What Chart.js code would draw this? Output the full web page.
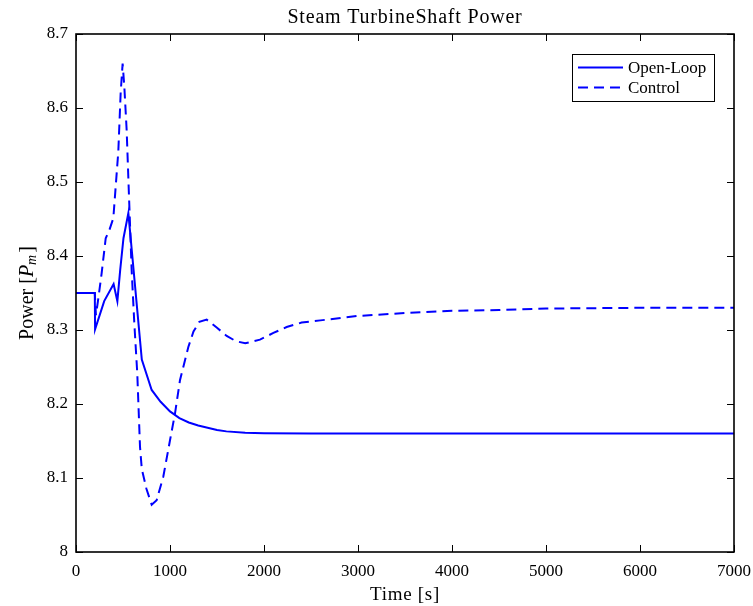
<!DOCTYPE html>
<html>
<head>
<meta charset="utf-8">
<script src="https://cdn.jsdelivr.net/npm/chart.js@4/dist/chart.umd.min.js"></script>
<style>
  html, body { margin: 0; padding: 0; background: #fff; }
  #wrap { width: 753px; height: 606px; }
</style>
</head>
<body>
<div id="wrap"><canvas id="c" width="753" height="606"></canvas></div>
<script>
// Shaft power response of the steam turbine, open loop vs. with control
const openLoopTime  = [0, 200, 203, 300, 400, 440, 470, 505, 557, 700, 805, 900, 1000, 1100, 1200, 1300, 1400, 1500, 1600, 1800, 2000, 2500, 3000, 7000];
const openLoopPower = [8.35, 8.35, 8.301, 8.339, 8.362, 8.339, 8.381, 8.424, 8.458, 8.26, 8.219, 8.203, 8.19, 8.181, 8.175, 8.171, 8.168, 8.165, 8.163, 8.161, 8.1605, 8.16, 8.16, 8.16];

const controlTime  = [0, 200, 212, 240, 273, 316, 355, 397, 450, 475, 496, 514, 539, 564, 592, 620, 652, 681, 700, 750, 805, 858, 929, 1000, 1053, 1106, 1195, 1250, 1312, 1390, 1500, 1603, 1700, 1800, 1957, 2100, 2241, 2400, 2600, 3000, 3500, 4000, 4500, 5000, 6000, 7000];
const controlPower = [8.35, 8.35, 8.32, 8.345, 8.377, 8.424, 8.435, 8.451, 8.541, 8.62, 8.66, 8.629, 8.57, 8.48, 8.381, 8.31, 8.241, 8.142, 8.112, 8.085, 8.064, 8.07, 8.102, 8.151, 8.187, 8.232, 8.277, 8.298, 8.311, 8.314, 8.303, 8.292, 8.285, 8.282, 8.287, 8.296, 8.304, 8.31, 8.313, 8.319, 8.323, 8.326, 8.327, 8.329, 8.33, 8.33];

const timeTicks  = [0, 1000, 2000, 3000, 4000, 5000, 6000, 7000];
const powerTicks = [8, 8.1, 8.2, 8.3, 8.4, 8.5, 8.6, 8.7];

const seriesLabels = ['Open-Loop', 'Control'];
const titleText = 'Steam TurbineShaft Power';
const xTitleText = 'Time [s]';

const SERIF = '"Liberation Serif", "Times New Roman", serif';
const BLUE = '#0000ff';

const toPoints = (xs, ys) => xs.map((x, i) => ({ x: x, y: ys[i] }));

// Box around the axes with inward tick marks on all four sides
const framePlugin = {
  id: 'frame',
  afterDraw(chart) {
    const { ctx, chartArea: a, scales } = chart;
    const len = 7;
    ctx.save();
    ctx.strokeStyle = '#000';
    ctx.lineWidth = 1;
    ctx.beginPath();
    scales.x.ticks.forEach(t => {
      const px = Math.round(scales.x.getPixelForValue(t.value)) + 0.5;
      ctx.moveTo(px, a.bottom); ctx.lineTo(px, a.bottom - len);
      ctx.moveTo(px, a.top); ctx.lineTo(px, a.top + len);
    });
    scales.y.ticks.forEach(t => {
      const py = Math.round(scales.y.getPixelForValue(t.value)) + 0.5;
      ctx.moveTo(a.left, py); ctx.lineTo(a.left + len, py);
      ctx.moveTo(a.right, py); ctx.lineTo(a.right - len, py);
    });
    ctx.stroke();
    ctx.lineWidth = 1.6;
    ctx.strokeRect(a.left, a.top, a.right - a.left, a.bottom - a.top);
    ctx.restore();
  }
};

// Title, axis titles (the y title carries an italic subscripted symbol)
const textPlugin = {
  id: 'texts',
  afterDraw(chart) {
    const { ctx, chartArea: a } = chart;
    const cx = (a.left + a.right) / 2;
    const cy = (a.top + a.bottom) / 2;
    ctx.save();
    ctx.fillStyle = '#000';
    ctx.textBaseline = 'alphabetic';
    ctx.textAlign = 'center';

    ctx.font = '20px ' + SERIF;
    ctx.letterSpacing = '0.8px';
    ctx.fillText(titleText, cx, 23);

    ctx.font = '19px ' + SERIF;
    ctx.letterSpacing = '0.7px';
    ctx.fillText(xTitleText, cx, 600);
    ctx.letterSpacing = '0px';

    // y title: "Power [P_m]"
    const parts = [
      { t: 'Power [', f: '20px ' + SERIF, dy: 0 },
      { t: 'P', f: 'italic 20px ' + SERIF, dy: 0 },
      { t: 'm', f: 'italic 14px ' + SERIF, dy: 3 },
      { t: ']', f: '20px ' + SERIF, dy: 0, gap: 2 }
    ];
    let total = 0;
    parts.forEach(p => { ctx.font = p.f; p.w = ctx.measureText(p.t).width; total += p.w + (p.gap || 0); });
    ctx.translate(33, cy);
    ctx.rotate(-Math.PI / 2);
    ctx.textAlign = 'left';
    let x = -total / 2;
    parts.forEach(p => {
      x += (p.gap || 0);
      ctx.font = p.f;
      ctx.fillText(p.t, x, p.dy);
      x += p.w;
    });
    ctx.restore();
  }
};

// Framed legend in the upper right of the axes
const legendPlugin = {
  id: 'boxLegend',
  afterDraw(chart) {
    const { ctx } = chart;
    const box = { x: 572, y: 54, w: 142, h: 47 };
    ctx.save();
    ctx.fillStyle = '#fff';
    ctx.fillRect(box.x, box.y, box.w, box.h);
    ctx.strokeStyle = '#000';
    ctx.lineWidth = 1;
    ctx.strokeRect(box.x + 0.5, box.y + 0.5, box.w, box.h);
    chart.data.datasets.forEach((ds, i) => {
      const y = box.y + 13.5 + i * 20;
      ctx.strokeStyle = ds.borderColor;
      ctx.lineWidth = ds.borderWidth;
      ctx.setLineDash(ds.borderDash || []);
      ctx.beginPath();
      ctx.moveTo(box.x + 6, y);
      ctx.lineTo(box.x + 51, y);
      ctx.stroke();
      ctx.setLineDash([]);
      ctx.fillStyle = '#000';
      ctx.font = '17px ' + SERIF;
      ctx.textBaseline = 'middle';
      ctx.textAlign = 'left';
      ctx.fillText(ds.label, box.x + 56, y + 1);
    });
    ctx.restore();
  }
};

new Chart(document.getElementById('c'), {
  type: 'line',
  data: {
    datasets: [
      {
        label: seriesLabels[0],
        data: toPoints(openLoopTime, openLoopPower),
        borderColor: BLUE,
        borderWidth: 2,
        pointRadius: 0,
        tension: 0,
        fill: false
      },
      {
        label: seriesLabels[1],
        data: toPoints(controlTime, controlPower),
        borderColor: BLUE,
        borderWidth: 2,
        borderDash: [10, 6],
        pointRadius: 0,
        tension: 0,
        fill: false
      }
    ]
  },
  options: {
    responsive: false,
    animation: false,
    devicePixelRatio: 1,
    layout: { padding: { top: 34, right: 19, left: 0, bottom: 0 } },
    plugins: {
      legend: { display: false },
      title: { display: false },
      tooltip: { enabled: false }
    },
    scales: {
      x: {
        type: 'linear',
        min: timeTicks[0],
        max: timeTicks[timeTicks.length - 1],
        afterBuildTicks: s => { s.ticks = timeTicks.map(v => ({ value: v })); },
        afterFit: s => { s.height = 54; s.paddingLeft = 0; s.paddingRight = 0; },
        grid: { display: false, drawTicks: false },
        border: { display: false },
        ticks: {
          color: '#000',
          padding: 9,
          maxRotation: 0,
          font: { family: SERIF, size: 17 },
          callback: v => String(v)
        }
      },
      y: {
        type: 'linear',
        min: powerTicks[0],
        max: powerTicks[powerTicks.length - 1],
        afterBuildTicks: s => { s.ticks = powerTicks.map(v => ({ value: v })); },
        afterFit: s => { s.width = 76; s.paddingTop = 0; s.paddingBottom = 0; },
        grid: { display: false, drawTicks: false },
        border: { display: false },
        ticks: {
          color: '#000',
          padding: 8,
          font: { family: SERIF, size: 17 },
          callback: v => String(Number(v.toFixed(1)))
        }
      }
    }
  },
  plugins: [framePlugin, textPlugin, legendPlugin]
});
</script>
</body>
</html>
